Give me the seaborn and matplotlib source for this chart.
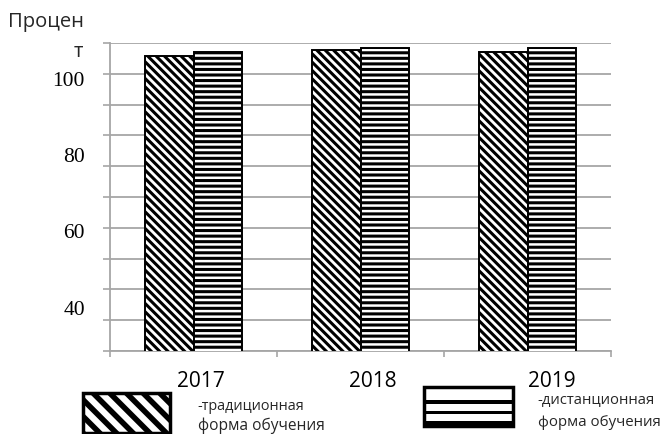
import numpy as np
import pandas as pd
import matplotlib
matplotlib.use("Agg")
import matplotlib.pyplot as plt
from matplotlib.patches import Rectangle
import seaborn as sns

# Data
years = ["2017", "2018", "2019"]
forms = ["традиционная", "дистанционная"]
traditional = [105.8, 107.3, 106.7]
distance = [106.7, 107.8, 107.8]
y_tick_values = [40, 60, 80, 100]
y_tick_labels = ["40", "60", "80", "100"]
legend_labels = ["-традиционная\nформа обучения", "-дистанционная\nформа обучения"]
y_title = ["Процен", "т"]

df = pd.DataFrame({
    "year": years * 2,
    "form": [forms[0]] * 3 + [forms[1]] * 3,
    "value": traditional + distance,
})

sns.set_theme(style="white")
plt.rcParams["hatch.linewidth"] = 2.2
plt.rcParams["hatch.color"] = "black"

W, H = 668, 435
fig = plt.figure(figsize=(W / 100, H / 100), dpi=100)
ax = fig.add_axes([110 / W, 1 - 352 / H, 501 / W, 308 / H])

sns.barplot(data=df, x="year", y="value", hue="form", hue_order=forms,
            palette=["white", "white"], edgecolor="black", linewidth=1.4,
            width=0.575, legend=False, ax=ax, zorder=3)

for cont, hatch in zip(ax.containers, ["\\\\\\\\", "---"]):
    for bar in cont:
        bar.set_hatch(hatch)

ylo, yhi = 28.4, 109.1
ax.set_ylim(ylo, yhi)
ax.set_xlim(-0.5, 2.5)

grid_color = "#a6a6a6"
# y axis: value labels without marks, grid on minor ticks
ax.set_yticks(y_tick_values)
ax.set_yticklabels(y_tick_labels, family="Liberation Serif", fontsize=15.5, color="black")
ax.tick_params(axis="y", which="major", length=0, pad=18)
ax.set_yticks(np.linspace(ylo, yhi, 11), minor=True)
ax.tick_params(axis="y", which="minor", length=5, width=1.2, color=grid_color, direction="out", left=True)
ax.grid(axis="y", which="minor", color=grid_color, linewidth=1.3, zorder=0)
ax.grid(axis="y", which="major", visible=False)
ax.set_axisbelow(True)

# x axis: year labels, boundary tick marks
ax.set_xticks([0.045, 1.075, 2.147])
ax.set_xticklabels(years, family="Open Sans", fontsize=15, color="black")
ax.tick_params(axis="x", which="major", length=0, pad=14)
ax.set_xticks([-0.5, 0.5, 1.5, 2.5], minor=True)
ax.tick_params(axis="x", which="minor", length=4, width=1.2, color=grid_color, direction="out", bottom=True)
ax.set_xlabel("")
ax.set_ylabel("")

for side in ["top", "right"]:
    ax.spines[side].set_visible(False)
for side in ["left", "bottom"]:
    ax.spines[side].set_color(grid_color)
    ax.spines[side].set_linewidth(1.3)

# Axis title, wrapped onto two lines
fig.text(8 / W, 1 - 22 / H, y_title[0], family="Open Sans", fontsize=14.5,
         ha="left", va="center")
fig.text(83 / W, 1 - 52 / H, y_title[1], family="Open Sans", fontsize=14.5,
         ha="right", va="center")

# Legend drawn in pixel space
lax = fig.add_axes([0, 0, 1, 1], zorder=5)
lax.set_xlim(0, W)
lax.set_ylim(H, 0)
lax.axis("off")
lax.patch.set_alpha(0)

# traditional: diagonal stripes
r = Rectangle((83, 394), 87, 40, facecolor="white", edgecolor="black",
              linewidth=2.5, hatch="\\\\")
try:
    r.set_hatch_linewidth(4.0)
except AttributeError:
    pass
lax.add_patch(r)

# distance: thick horizontal stripes
box = (424, 388, 89, 39)
lax.add_patch(Rectangle(box[:2], box[2], box[3], facecolor="white",
                        edgecolor="black", linewidth=2.5))
for (s0, s1) in [(400.7, 405.0), (411.7, 415.2), (421.5, 427.0)]:
    lax.add_patch(Rectangle((box[0], s0), box[2], s1 - s0,
                            facecolor="black", edgecolor="none"))

# legend captions: (x, y line 1, y line 2, size line 1, size line 2)
text_pos = [(197, 407, 426, 10.4, 11.2), (537, 401, 423, 10.7, 10.8)]
for (tx, y1, y2, f1, f2), lab in zip(text_pos, legend_labels):
    l1, l2 = lab.split("\n")
    lax.text(tx, y1, l1, family="Open Sans", fontsize=f1, ha="left", va="center")
    lax.text(tx + 1, y2, l2, family="Open Sans", fontsize=f2, ha="left", va="center")

fig.savefig("out.png", dpi=100)
